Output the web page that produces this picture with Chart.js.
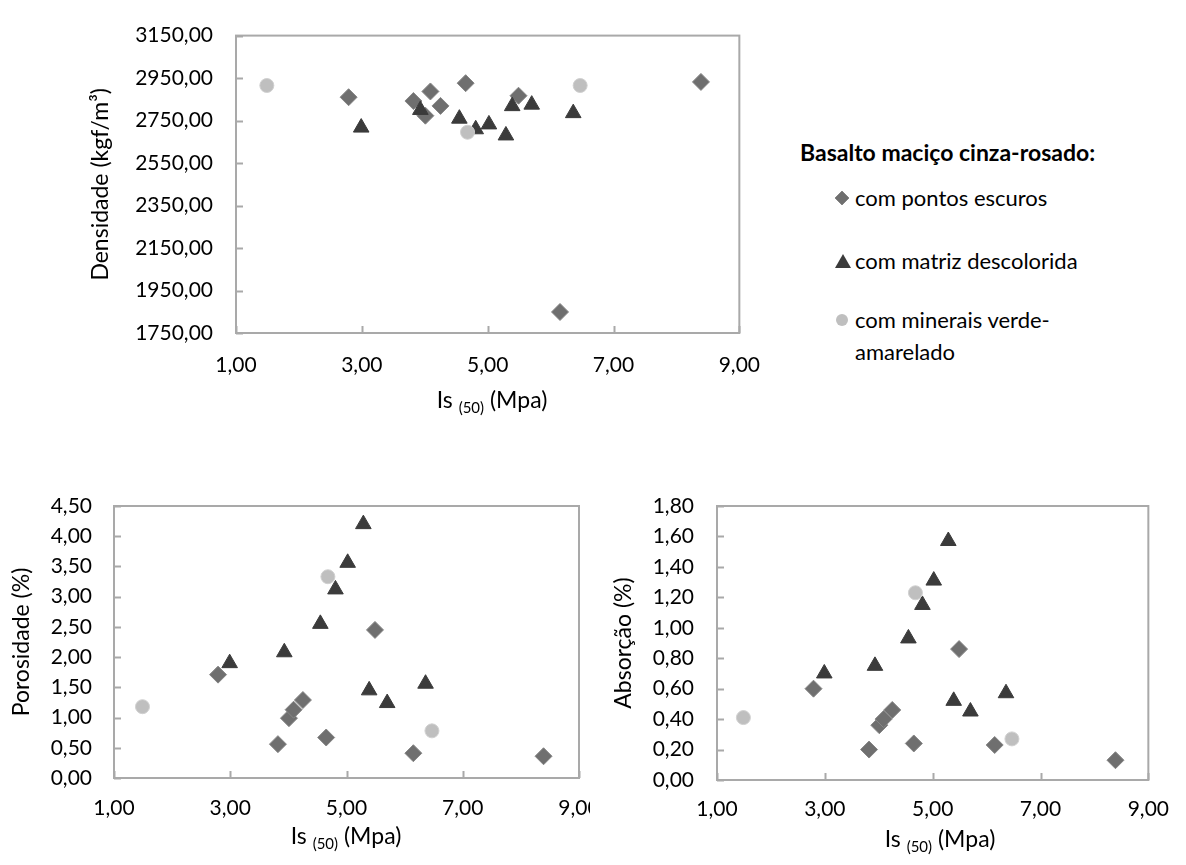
<!DOCTYPE html>
<html>
<head>
<meta charset="utf-8">
<script src="https://cdn.jsdelivr.net/npm/chart.js@4.4.1/dist/chart.umd.min.js"></script>
<style>
  html, body { margin:0; padding:0; background:#fff; }
  body { width:1186px; height:865px; position:relative; overflow:hidden; font-family: Lato, "Open Sans", sans-serif; color:#000; }
  .box { position:absolute; }
  .clip { position:absolute; overflow:hidden; }
  .xt { position:absolute; font-size:23px; white-space:nowrap; transform:translateX(-50%); line-height:26px; }
  .xt sub { font-size:15px; vertical-align:-5px; }
  .lg { position:absolute; white-space:nowrap; }
  .lg.ttl { font-weight:bold; font-size:23px; line-height:26px; left:800px; }
  .lg.item { font-size:22px; line-height:26px; left:855px; }
  .lg svg { position:absolute; left:-21px; top:5px; }
</style>
</head>
<body>
<div class="box" style="left:0;top:0;width:780px;height:420px;"><canvas id="c1"></canvas></div>
<div class="clip" style="left:0;top:470px;width:590px;height:390px;">
  <div class="box" style="left:0;top:0;width:640px;height:390px;"><canvas id="c2"></canvas></div>
</div>
<div class="box" style="left:600px;top:470px;width:586px;height:390px;"><canvas id="c3"></canvas></div>

<div class="xt" style="left:492px;top:386px;">Is <sub>(50)</sub> (Mpa)</div>
<div class="xt" style="left:346px;top:822px;">Is <sub>(50)</sub> (Mpa)</div>
<div class="xt" style="left:940px;top:825px;">Is <sub>(50)</sub> (Mpa)</div>

<div id="legend"></div>

<script>
// ---- data ----
const legendTitle = "Basalto maciço cinza-rosado:";
const seriesNames = ["com pontos escuros", "com matriz descolorida", "com minerais verde-amarelado"];

const isDiamond  = [2.79, 3.82, 4.01, 4.09, 4.25, 4.65, 5.49, 6.15, 8.39];
const isTriangle = [2.99, 3.93, 4.55, 4.81, 5.02, 5.29, 5.39, 5.70, 6.36];
const isCircle   = [1.49, 4.68, 6.47];

const densDiamond  = [2860, 2842, 2773, 2887, 2819, 2926, 2867, 1849, 2932];
const densTriangle = [2717, 2800, 2759, 2709, 2732, 2680, 2818, 2825, 2785];
const densCircle   = [2915, 2695, 2915];

const poroDiamond  = [1.71, 0.56, 0.99, 1.13, 1.29, 0.67, 2.45, 0.41, 0.36];
const poroTriangle = [1.90, 2.08, 2.55, 3.12, 3.56, 4.20, 1.45, 1.24, 1.56];
const poroCircle   = [1.18, 3.33, 0.78];

const absDiamond  = [0.60, 0.20, 0.36, 0.40, 0.46, 0.24, 0.86, 0.23, 0.13];
const absTriangle = [0.70, 0.75, 0.93, 1.15, 1.31, 1.57, 0.52, 0.45, 0.57];
const absCircle   = [0.41, 1.23, 0.27];

const xTicks    = [1, 3, 5, 7, 9];
const densTicks = [1750, 1950, 2150, 2350, 2550, 2750, 2950, 3150];
const poroTicks = [0, 0.5, 1, 1.5, 2, 2.5, 3, 3.5, 4, 4.5];
const absTicks  = [0, 0.2, 0.4, 0.6, 0.8, 1.0, 1.2, 1.4, 1.6, 1.8];

// ---- styles ----
const FONT = "Lato, 'Open Sans', sans-serif";
const styles = [
  { pointStyle:'rectRot',  radius:8.5, bg:'#6f6f6f', border:'#868686', order:3 },
  { pointStyle:'triangle', radius:9,   bg:'#3b3b3b', border:'#3b3b3b', order:2 },
  { pointStyle:'circle',   radius:7,   bg:'#bfbfbf', border:'#d0d0d0', order:1 }
];
const fmt = v => Number(v).toFixed(2).replace('.', ',');
const pts = (xs, ys) => xs.map((x, i) => ({ x: x, y: ys[i] }));

const framePlugin = {
  id: 'frameTicks',
  afterDraw(chart) {
    const { ctx, chartArea: a, scales } = chart;
    ctx.save();
    ctx.strokeStyle = '#a9a9a9';
    ctx.lineWidth = 2;
    ctx.beginPath();
    scales.y.ticks.forEach(t => {
      const y = Math.round(scales.y.getPixelForValue(t.value)) + 0.5;
      ctx.moveTo(a.left, y); ctx.lineTo(a.left + 7, y);
    });
    scales.x.ticks.forEach(t => {
      const x = Math.round(scales.x.getPixelForValue(t.value)) + 0.5;
      ctx.moveTo(x, a.bottom); ctx.lineTo(x, a.bottom - 7);
    });
    ctx.stroke();
    ctx.strokeRect(a.left, a.top, a.right - a.left, a.bottom - a.top);
    ctx.restore();
  }
};

function makeChart(id, data, yTicks, yTitle, geo) {
  const sets = [isDiamond, isTriangle, isCircle].map((xs, k) => ({
    label: seriesNames[k],
    data: pts(xs, data[k]),
    pointStyle: styles[k].pointStyle,
    pointRadius: styles[k].radius,
    pointBackgroundColor: styles[k].bg,
    pointBorderColor: styles[k].border,
    pointBorderWidth: 1,
    order: styles[k].order,
    showLine: false
  }));
  return new Chart(document.getElementById(id), {
    type: 'scatter',
    data: { datasets: sets },
    plugins: [framePlugin],
    options: {
      responsive: true,
      maintainAspectRatio: false,
      devicePixelRatio: 1,
      animation: false,
      events: [],
      layout: { padding: { top: geo.top, right: geo.right, left: 0, bottom: 0 } },
      plugins: { legend: { display: false }, tooltip: { enabled: false } },
      scales: {
        x: {
          type: 'linear', min: xTicks[0], max: xTicks[xTicks.length - 1],
          afterBuildTicks: s => { s.ticks = xTicks.map(v => ({ value: v })); },
          afterFit: s => { s.height = geo.xh; },
          grid: { display: false, drawTicks: false },
          border: { display: false },
          ticks: { padding: geo.xpad, color: '#000', font: { family: FONT, size: 21 }, callback: v => fmt(v), autoSkip: false, maxRotation: 0 }
        },
        y: {
          type: 'linear', min: yTicks[0], max: yTicks[yTicks.length - 1],
          afterBuildTicks: s => { s.ticks = yTicks.map(v => ({ value: v })); },
          afterFit: s => { s.width = geo.yw; },
          grid: { display: false, drawTicks: false },
          border: { display: false },
          ticks: { padding: geo.ypad, color: '#000', font: { family: FONT, size: 21 }, callback: v => fmt(v), autoSkip: false },
          title: { display: true, text: yTitle, color: '#000', font: { family: FONT, size: 23 }, padding: { top: geo.tpad, bottom: 0 } }
        }
      }
    }
  });
}

makeChart('c1', [densDiamond, densTriangle, densCircle], densTicks, 'Densidade (kgf/m³)',
  { top: 24, right: 32, xh: 87, yw: 236, xpad: 20, ypad: 23, tpad: 87 });
makeChart('c2', [poroDiamond, poroTriangle, poroCircle], poroTicks, 'Porosidade (%)',
  { top: 36, right: 61, xh: 82, yw: 114, xpad: 18, ypad: 22, tpad: 8 });
makeChart('c3', [absDiamond, absTriangle, absCircle], absTicks, 'Absorção (%)',
  { top: 36, right: 24, xh: 80, yw: 117, xpad: 17, ypad: 23, tpad: 10 });

// ---- HTML legend built from the series ----
const icons = [
  '<svg width="16" height="16"><polygon points="8,1 15,8 8,15 1,8" fill="#6f6f6f" stroke="#868686"/></svg>',
  '<svg width="18" height="16"><polygon points="9,1 17,15 1,15" fill="#3b3b3b"/></svg>',
  '<svg width="16" height="16"><circle cx="8" cy="8" r="6" fill="#bfbfbf"/></svg>'
];
const itemTops = [185, 248, 304];
const lg = document.getElementById('legend');
let html = '<div class="lg ttl" style="top:139px">' + legendTitle + '</div>';
seriesNames.forEach((n, k) => {
  const parts = n.split('verde-');
  const text = parts.length > 1 ? parts[0] + 'verde-<br>' + parts[1] : n;
  const lh = parts.length > 1 ? 'line-height:32px;' : '';
  const svgTop = parts.length > 1 ? 'style="top:8px"' : '';
  html += '<div class="lg item" style="top:' + itemTops[k] + 'px;' + lh + '">' +
          icons[k].replace('<svg ', '<svg ' + svgTop + ' ') + text + '</div>';
});
lg.innerHTML = html;
</script>
</body>
</html>
